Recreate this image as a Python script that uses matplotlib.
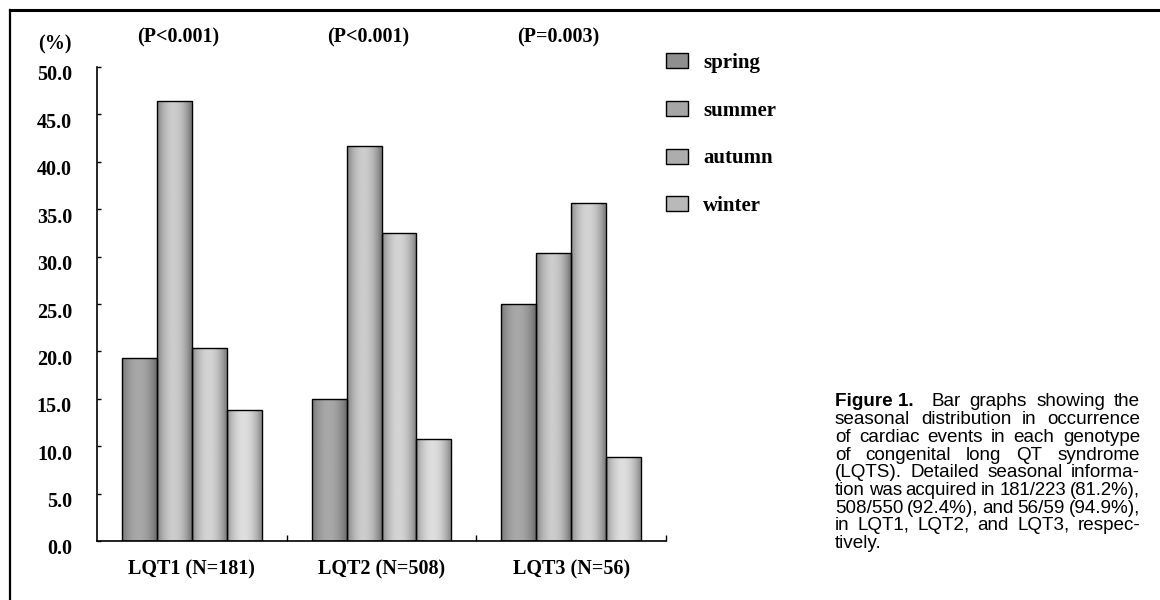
import numpy as np
import matplotlib
matplotlib.use("Agg")
import matplotlib.pyplot as plt
from matplotlib.patches import Patch
from matplotlib.lines import Line2D
from matplotlib.transforms import ScaledTranslation

# ---- data ----
genotypes = ["LQT1 (N=181)", "LQT2 (N=508)", "LQT3 (N=56)"]
seasons = ["spring", "summer", "autumn", "winter"]
spring = [19.3, 15.0, 25.0]
summer = [46.4, 41.7, 30.4]
autumn = [20.4, 32.5, 35.7]
winter = [13.8, 10.8, 8.9]
p_values = ["(P<0.001)", "(P<0.001)", "(P=0.003)"]
yticks = [0, 5, 10, 15, 20, 25, 30, 35, 40, 45, 50]

caption_lines = [
    "seasonal distribution in occurrence",
    "of cardiac events in each genotype",
    "of congenital long QT syndrome",
    "(LQTS). Detailed seasonal informa-",
    "tion was acquired in 181/223 (81.2%),",
    "508/550 (92.4%), and 56/59 (94.9%),",
    "in LQT1, LQT2, and LQT3, respec-",
]

W, H = 1160, 600
SERIF = "Liberation Serif"
SANS = "Liberation Sans"

fig = plt.figure(figsize=(W / 100, H / 100), dpi=100)
fig.patch.set_facecolor("white")

# axes placed in pixels: x-axis 97..666, y 541 (0) .. 67 (50)
ax = fig.add_axes([97 / W, (H - 541) / H, (666 - 97) / W, (541 - 67) / H])

values = [spring, summer, autumn, winter]
bw = 0.184
x = np.arange(len(genotypes)) + 0.5
# shading levels (edge, centre) for the cylinder-like gray bars
shade = [(0.46, 0.66), (0.50, 0.80), (0.53, 0.83), (0.58, 0.87)]

t = np.linspace(0, 1, 64)
for i, vals in enumerate(values):
    bars = ax.bar(x + (i - 1.5) * bw, vals, bw, facecolor="none",
                  edgecolor="black", linewidth=1.0, zorder=3)
    lo, hi = shade[i]
    prof = lo + (hi - lo) * np.sin(np.pi * np.clip(t * 1.05, 0, 1)) ** 0.8
    grad = prof[np.newaxis, :]
    for b in bars:
        x0 = b.get_x()
        im = ax.imshow(grad, extent=[x0, x0 + b.get_width(), 0, b.get_height()],
                       cmap="gray", vmin=0, vmax=1, aspect="auto", zorder=2,
                       interpolation="bilinear")
        im.set_clip_path(b)

ax.set_xlim(0, 3)
ax.set_ylim(0, 50)
for s in ["top", "right"]:
    ax.spines[s].set_visible(False)
for s in ["left", "bottom"]:
    ax.spines[s].set_linewidth(1.2)

ax.set_yticks(yticks)
ax.set_yticklabels(["%.1f" % v for v in yticks], fontfamily=SERIF,
                   fontweight="bold", fontsize=14.5)
ax.tick_params(axis="y", direction="in", length=3, width=1, pad=18)
off = ScaledTranslation(0, -0.06, fig.dpi_scale_trans)
for lab in ax.get_yticklabels():
    lab.set_transform(lab.get_transform() + off)

ax.set_xticks(x)
ax.set_xticklabels(genotypes, fontfamily=SERIF, fontweight="bold", fontsize=14.5)
ax.set_xticks([1, 2, 3], minor=True)
ax.tick_params(axis="x", which="major", length=0, pad=13)
ax.tick_params(axis="x", which="minor", direction="in", length=4.5, width=1)

# p-values above each group
for xi, p in zip(x, p_values):
    ax.text(xi - 0.07, 1.063, p, transform=ax.get_xaxis_transform(),
            ha="center", va="center", fontfamily=SERIF, fontweight="bold",
            fontsize=14.5)

fig.text(55 / W, 1 - 44 / H, "(%)", ha="center", va="center",
         fontfamily=SERIF, fontweight="bold", fontsize=14.5)

# legend
handles = [Patch(facecolor=str((lo + hi) / 2), edgecolor="black", linewidth=1)
           for lo, hi in shade]
leg = fig.legend(handles, seasons, loc="upper left",
                 bbox_to_anchor=(666 / W, 1 - 53 / H),
                 bbox_transform=fig.transFigure, frameon=False,
                 borderpad=0, borderaxespad=0, handlelength=1.06,
                 handleheight=0.72, handletextpad=0.72, labelspacing=1.33,
                 prop={"family": SERIF, "weight": "bold", "size": 15})

# frame lines at the top and left of the panel
fig.add_artist(Line2D([10 / W, 10 / W], [0, 1 - 10 / H], color="black",
                      linewidth=1.6, transform=fig.transFigure))
fig.add_artist(Line2D([10 / W, 1], [1 - 10 / H, 1 - 10 / H], color="black",
                      linewidth=2.2, transform=fig.transFigure))

# caption, justified between x=835 and x=1140
cx0, cx1 = 835, 1140
cy0, dy = 402, 17.7
cap_size = 13.6
renderer = fig.canvas.get_renderer()


def justify(tokens, y_px, gaps=None, min_gap=3.0):
    if gaps is None:
        gaps = [1] * (len(tokens) - 1)
    size = cap_size
    while True:
        objs = [fig.text(0, 1 - y_px / H, tok, ha="left", va="center",
                         fontsize=size, **props) for tok, props in tokens]
        widths = [o.get_window_extent(renderer).width for o in objs]
        g = (cx1 - cx0 - sum(widths)) / sum(gaps)
        if g >= min_gap or size < 10:
            break
        # line too long: tighten by shrinking the type a little
        for o in objs:
            o.remove()
        size -= 0.2
    xp = cx0
    for k, o in enumerate(objs):
        o.set_x(xp / W)
        if k < len(gaps):
            xp += widths[k] + g * gaps[k]


plain = {"family": SANS}
justify([("Figure 1.", {"family": ["Liberation Sans Narrow", SANS], "weight": "bold"})]
        + [(w, plain) for w in "Bar graphs showing the".split()], cy0,
        gaps=[2, 1, 1, 1])
for n, line in enumerate(caption_lines):
    justify([(w, plain) for w in line.split()], cy0 + (n + 1) * dy)
fig.text(cx0 / W, 1 - (cy0 + 8 * dy) / H, "tively.", ha="left", va="center",
         fontsize=cap_size, family=SANS)

fig.savefig("out.png", dpi=100)
